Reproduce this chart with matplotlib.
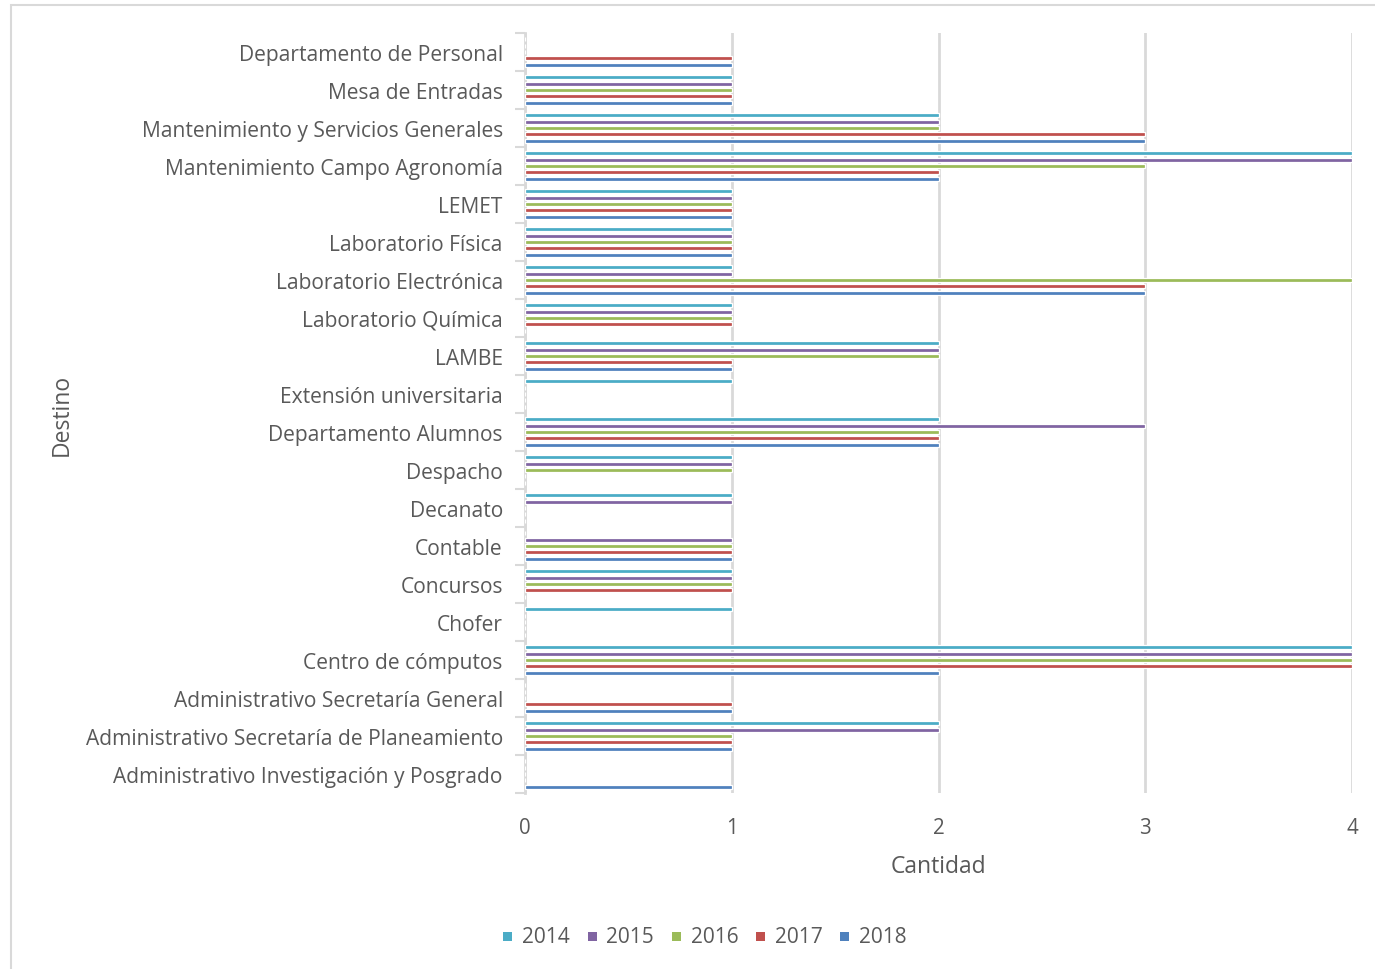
import numpy as np
import matplotlib
matplotlib.use('Agg')
import matplotlib.pyplot as plt
from matplotlib.patches import Rectangle

plt.rcParams['font.family'] = ['Open Sans', 'DejaVu Sans']

# categories listed bottom -> top, as drawn on the axis
destinos = [
    'Administrativo Investigación y Posgrado',
    'Administrativo Secretaría de Planeamiento',
    'Administrativo Secretaría General',
    'Centro de cómputos',
    'Chofer',
    'Concursos',
    'Contable',
    'Decanato',
    'Despacho',
    'Departamento Alumnos',
    'Extensión universitaria',
    'LAMBE',
    'Laboratorio Química',
    'Laboratorio Electrónica',
    'Laboratorio Física',
    'LEMET',
    'Mantenimiento Campo Agronomía',
    'Mantenimiento y Servicios Generales',
    'Mesa de Entradas',
    'Departamento de Personal',
]

years = ['2014', '2015', '2016', '2017', '2018']

v2014 = [0, 2, 0, 4, 1, 1, 0, 1, 1, 2, 1, 2, 1, 1, 1, 1, 4, 2, 1, 0]
v2015 = [0, 2, 0, 4, 0, 1, 1, 1, 1, 3, 0, 2, 1, 1, 1, 1, 4, 2, 1, 0]
v2016 = [0, 1, 0, 4, 0, 1, 1, 0, 1, 2, 0, 2, 1, 4, 1, 1, 3, 2, 1, 0]
v2017 = [0, 1, 1, 4, 0, 1, 1, 0, 0, 2, 0, 1, 1, 3, 1, 1, 2, 3, 1, 1]
v2018 = [1, 1, 1, 2, 0, 0, 1, 0, 0, 2, 0, 1, 0, 3, 1, 1, 2, 3, 1, 1]

series = [v2014, v2015, v2016, v2017, v2018]
colors = ['#4BACC6', '#8064A2', '#9BBB59', '#C0504D', '#4F81BD']

text_color = '#595959'
grid_color = '#D9D9D9'

fig = plt.figure(figsize=(13.75, 9.7), dpi=100)
ax = fig.add_axes([525 / 1375, 1 - 794 / 970, 827 / 1375, 760 / 970])

# outer chart border
fig.patches.append(Rectangle((11 / 1375, -0.01), 1.02, 1 - 6 / 970 + 0.01,
                             transform=fig.transFigure, fill=False,
                             edgecolor='#D9D9D9', linewidth=1.5))

y = np.arange(len(destinos))
step = 0.166
for i, (vals, col, yr) in enumerate(zip(series, colors, years)):
    offs = (2 - i) * step
    ax.barh(y + offs, vals, height=0.1, color=col, edgecolor='white',
            linewidth=0.9, label=yr, zorder=3)

ax.set_xlim(0, 4)
ax.set_ylim(-0.5, len(destinos) - 0.5)
ax.set_xticks([0, 1, 2, 3, 4])
ax.set_yticks(y)
ax.set_yticklabels(destinos)
ax.set_yticks(np.arange(-0.5, len(destinos), 1), minor=True)
ax.tick_params(axis='y', which='major', length=0, pad=16, labelsize=15.1,
               labelcolor=text_color)
ax.tick_params(axis='y', which='minor', length=7, width=1.5, color=grid_color)
ax.tick_params(axis='x', length=0, pad=17, labelsize=14.8, labelcolor=text_color)

ax.grid(axis='x', color=grid_color, linewidth=2.0, zorder=0)
for s in ['top', 'right', 'bottom']:
    ax.spines[s].set_visible(False)
ax.spines['left'].set_color(grid_color)
ax.spines['left'].set_linewidth(2.0)

ax.set_xlabel('Cantidad', fontsize=16.5, color=text_color, labelpad=12)
fig.text(62 / 1375, 1 - 415 / 970, 'Destino', rotation=90, fontsize=16.5,
         color=text_color, ha='center', va='center')

leg = ax.legend(loc='center', bbox_to_anchor=(705 / 1375, 1 - 938 / 970),
                bbox_transform=fig.transFigure, ncol=5, frameon=False,
                fontsize=15, handlelength=0.5, handleheight=0.5,
                handletextpad=0.4, columnspacing=0.85)
for t in leg.get_texts():
    t.set_color(text_color)
for h in leg.legend_handles:
    h.set_height(6.5)
    h.set_width(6.5)
    h.set_linewidth(0)

fig.savefig('out.png', dpi=100, facecolor='white')
